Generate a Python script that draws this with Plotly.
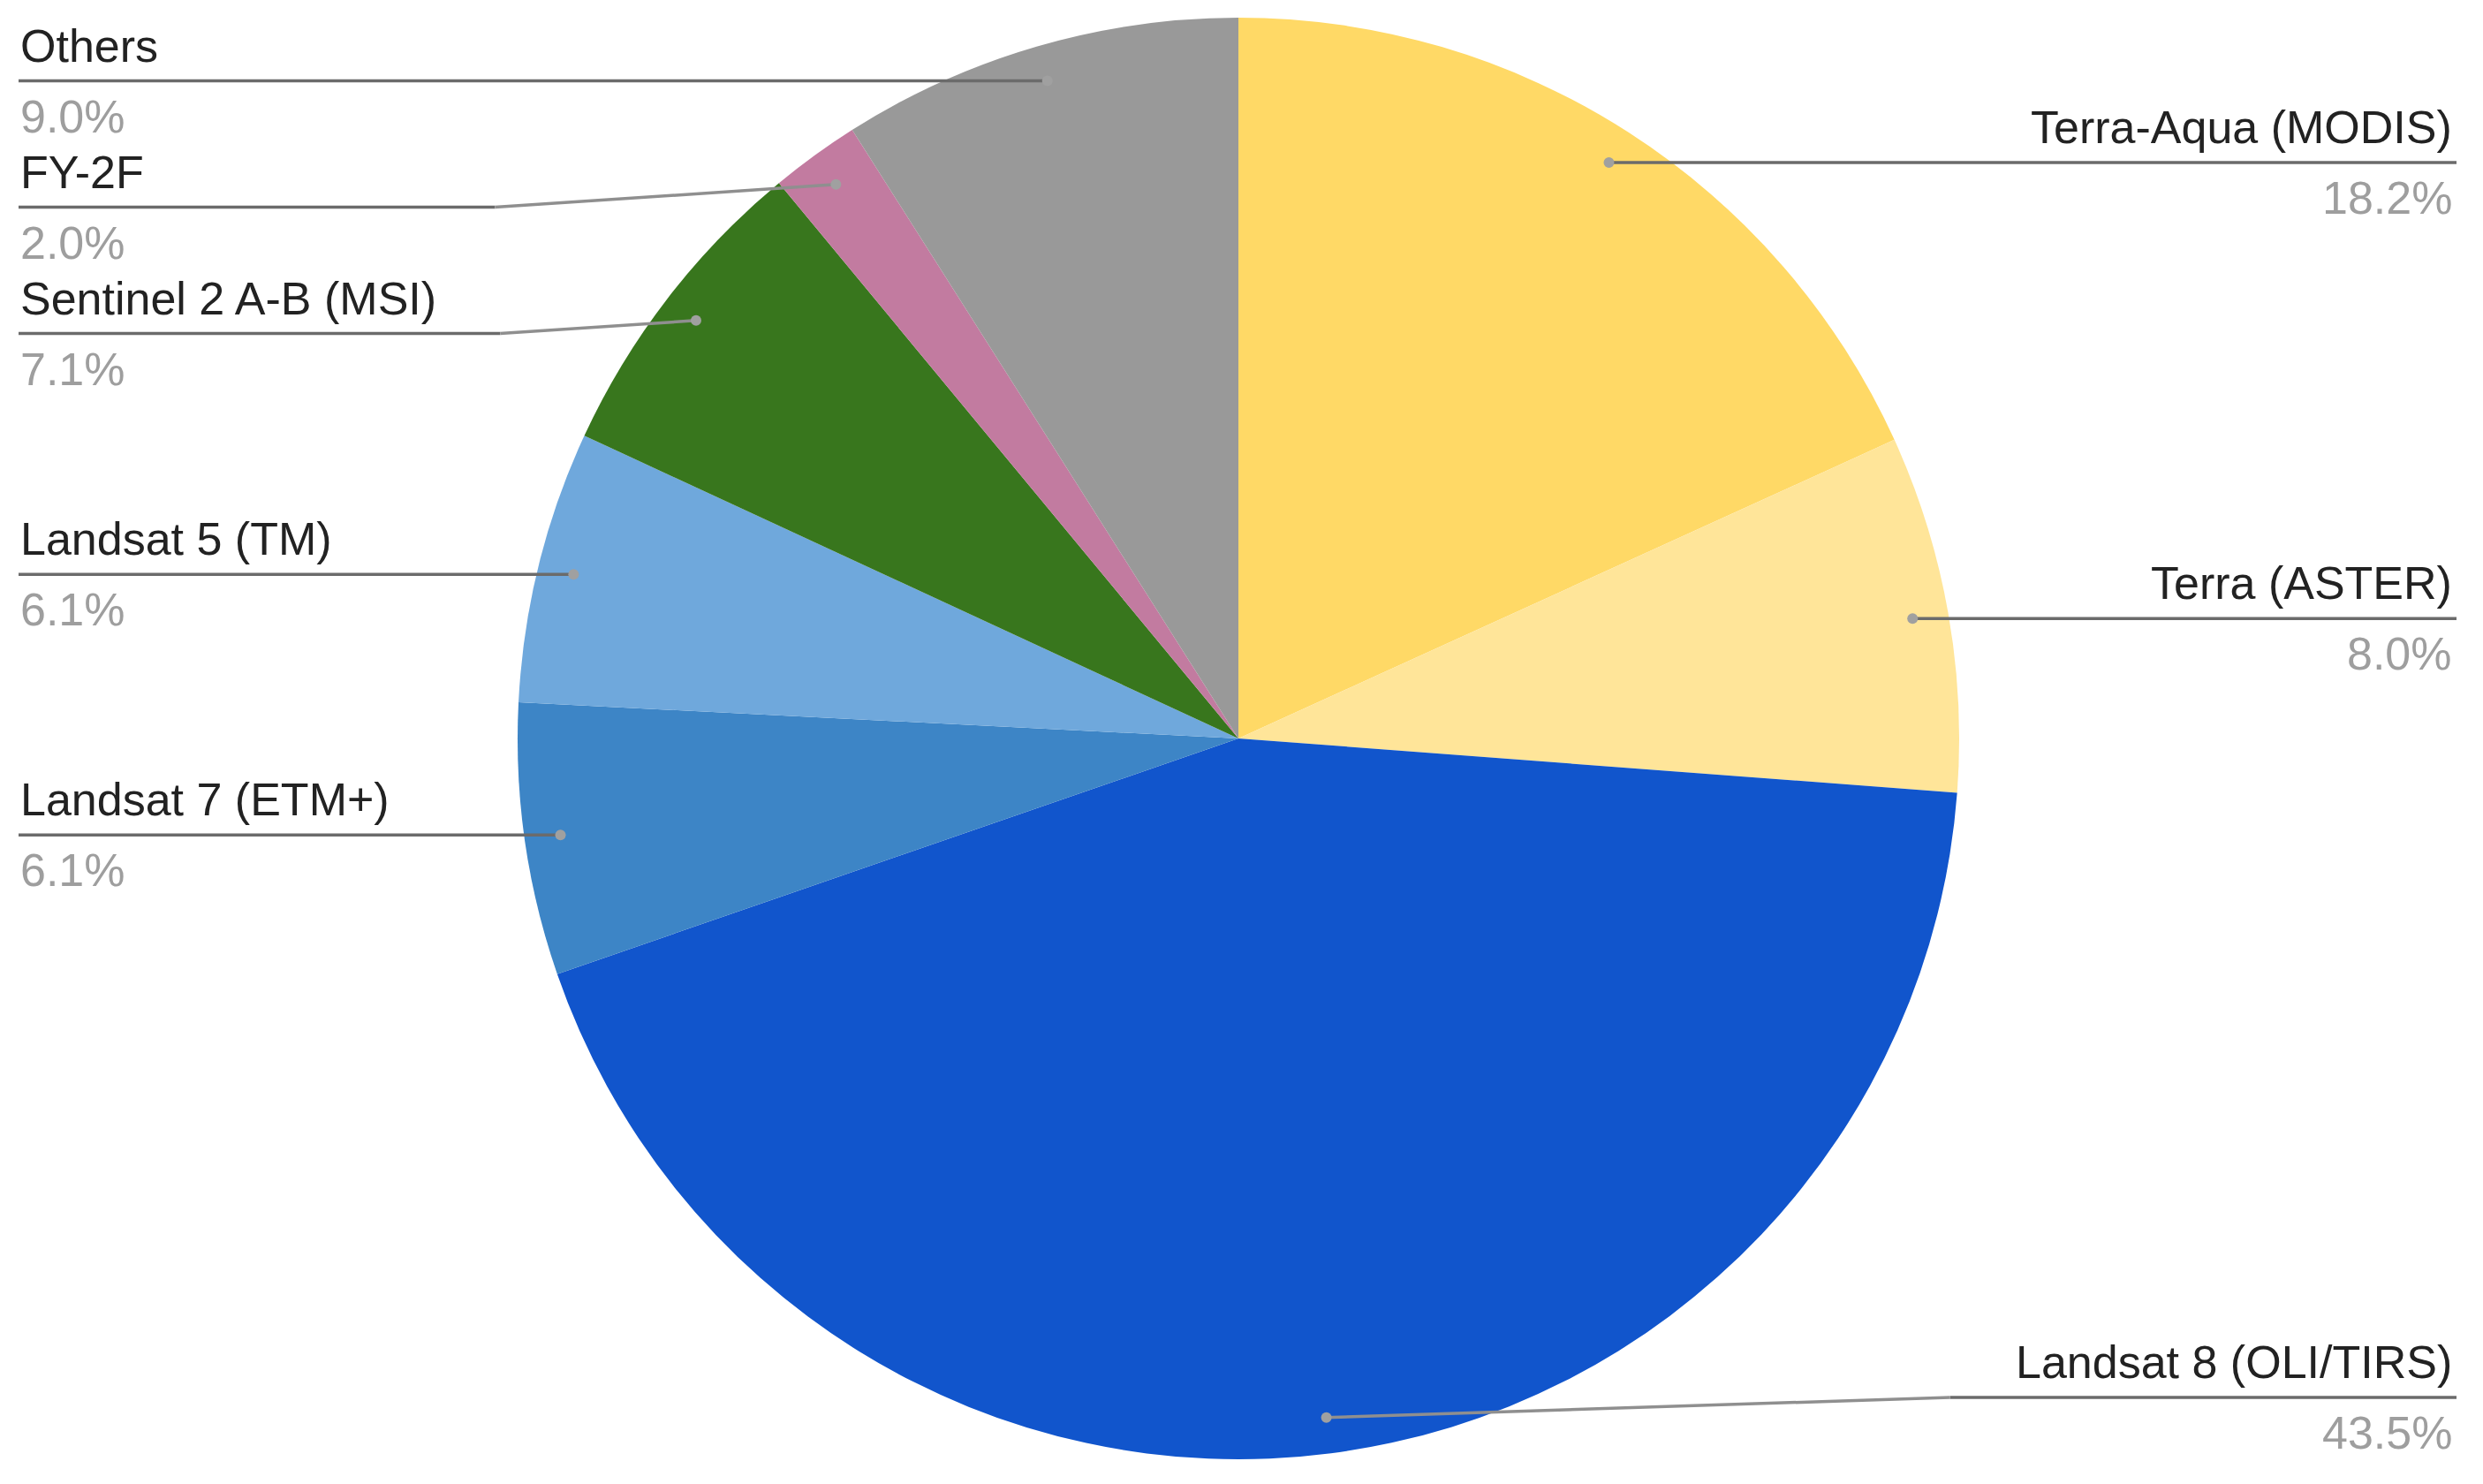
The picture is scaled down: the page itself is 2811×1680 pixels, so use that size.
import math
import plotly.graph_objects as go

# Data
labels = [
    "Terra-Aqua (MODIS)",
    "Terra (ASTER)",
    "Landsat 8 (OLI/TIRS)",
    "Landsat 7 (ETM+)",
    "Landsat 5 (TM)",
    "Sentinel 2 A-B (MSI)",
    "FY-2F",
    "Others",
]
shares = [18.2, 8.0, 43.5, 6.1, 6.1, 7.1, 2.0, 9.0]
colors = ["#FFD966", "#FFE599", "#1155CC", "#3D85C6", "#6FA8DC", "#38761D", "#C27BA0", "#999999"]

W, H = 2811, 1680
# pie box in pixels
px0, px1 = 586, 2218
py0, py1 = 20, 1652
cx, cy = (px0 + px1) / 2, (py0 + py1) / 2
R = (px1 - px0) / 2

fig = go.Figure()

fig.add_trace(
    go.Pie(
        labels=labels,
        values=shares,
        sort=False,
        direction="clockwise",
        rotation=0,
        marker=dict(colors=colors, line=dict(width=0)),
        textinfo="none",
        showlegend=False,
        domain=dict(x=[px0 / W, px1 / W], y=[1 - py1 / H, 1 - py0 / H]),
    )
)

# Dot positions inside each slice (mid-angle, 95% of radius)
total = sum(shares)
dots = []
cum = 0
for v in shares:
    mid = (cum + v / 2) / total * 2 * math.pi
    cum += v
    dots.append((cx + 0.95 * R * math.sin(mid), cy - 0.95 * R * math.cos(mid)))

# Label line heights: avoid overlaps, keep inside figure
gap = 143
y_min, y_max = 90, 1582
line_y = [0] * len(labels)
for side in ("left", "right"):
    idx = [i for i in range(len(labels)) if (dots[i][0] < cx) == (side == "left")]
    idx.sort(key=lambda i: dots[i][1])
    prev = -1e9
    for i in idx:
        y = max(dots[i][1], prev + gap, y_min)
        line_y[i] = y
        prev = y
    nxt = 1e9
    for i in reversed(idx):
        y = min(line_y[i], nxt - gap, y_max)
        line_y[i] = y
        nxt = y

x_left, x_right = 21, 2781
shapes = []
annotations = []
for i, name in enumerate(labels):
    dx, dy = dots[i]
    ly = line_y[i]
    left = dx < cx
    xe = x_left if left else x_right
    k = 15 if left else 31
    span = k * abs(dy - ly)
    bend = dx - span if left else dx + span
    # horizontal part
    shapes.append(dict(type="line", xref="x", yref="y", x0=xe, y0=ly, x1=bend, y1=ly,
                       line=dict(color="#6b6b6b", width=3.5), layer="above"))
    # slanted part to the dot
    shapes.append(dict(type="line", xref="x", yref="y", x0=bend, y0=ly, x1=dx, y1=dy,
                       line=dict(color="#8f8f8f", width=3.5), layer="above"))
    shapes.append(dict(type="circle", xref="x", yref="y", x0=dx - 6, y0=dy - 6, x1=dx + 6, y1=dy + 6,
                       fillcolor="#a0a0a0", line=dict(width=0), layer="above"))
    tx = x_left if left else x_right - 3
    anchor = "left" if left else "right"
    annotations.append(dict(x=tx, y=ly - 40, xref="x", yref="y", text=name, showarrow=False,
                            xanchor=anchor, yanchor="middle",
                            font=dict(size=52, color="#222222", family="Liberation Sans, Arial")))
    annotations.append(dict(x=tx, y=ly + 40, xref="x", yref="y", text=f"{shares[i]:.1f}%", showarrow=False,
                            xanchor=anchor, yanchor="middle",
                            font=dict(size=52, color="#9e9e9e", family="Liberation Sans, Arial")))

fig.update_layout(
    width=W,
    height=H,
    margin=dict(l=0, r=0, t=0, b=0),
    paper_bgcolor="white",
    plot_bgcolor="rgba(0,0,0,0)",
    shapes=shapes,
    annotations=annotations,
    xaxis=dict(range=[0, W], visible=False, fixedrange=True),
    yaxis=dict(range=[H, 0], visible=False, fixedrange=True),
)

# drop the default page margin so the figure sits at the window corner
fig.write_html(
    "out.html",
    config={"displayModeBar": False},
    post_script="document.body.style.margin='0';",
)
